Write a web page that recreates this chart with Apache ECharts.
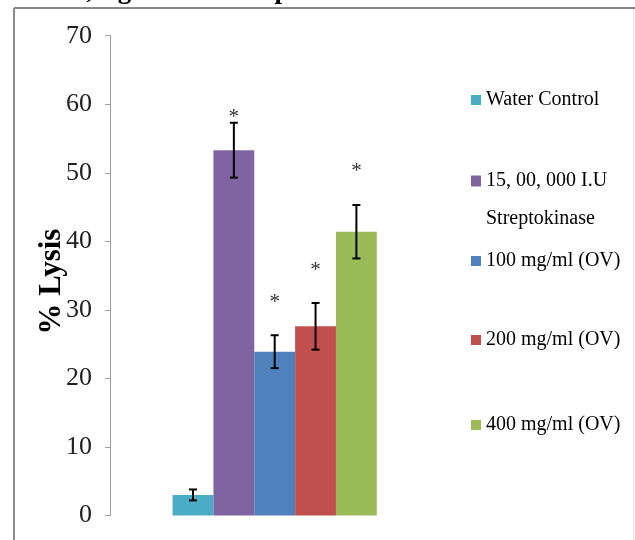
<!DOCTYPE html>
<html><head><meta charset="utf-8">
<script src="https://cdn.jsdelivr.net/npm/echarts@6/dist/echarts.min.js"></script>
<style>html,body{margin:0;padding:0;background:#fff}#c{width:635px;height:540px}</style>
</head><body><div id="c"></div>
<script>
// ---- data ----
const categories = [''];
const seriesNames = ['Water Control', '15, 00, 000 I.U Streptokinase', '100 mg/ml (OV)', '200 mg/ml (OV)', '400 mg/ml (OV)'];
const lysisMean = [3.0, 53.3, 23.9, 27.6, 41.4];
const lysisError = [0.8, 4.0, 2.4, 3.4, 3.9];
const asteriskAt = [null, 58.6, 31.7, 36.3, 50.8];
const yTickValues = [0, 10, 20, 30, 40, 50, 60, 70];
const headerText = '0.0002, significant compared to control';

// ---- style ----
const colors = ['#4BACC6', '#8064A2', '#4F81BD', '#C0504D', '#9BBB59'];
const CAT_GAP = 0.38;
const SERIF = '"Liberation Serif", "DejaVu Serif", serif';
const legendCenters = [95, 176, 256, 335, 420];

const chart = echarts.init(document.getElementById('c'), null, {renderer: 'canvas'});
const n = seriesNames.length;

function barCenter(api, i) {
  const band = api.size([1, 0])[0];
  const bw = band * (1 - CAT_GAP) / n;
  return api.coord([0, 0])[0] + (i - (n - 1) / 2) * bw;
}

const barSeries = seriesNames.map((name, i) => ({
  type: 'bar', name: name, data: [lysisMean[i]],
  barGap: '0%', barCategoryGap: (CAT_GAP * 100) + '%',
  itemStyle: {color: colors[i]}, silent: true
}));

const errSeries = {
  type: 'custom', name: 'err', z: 10, silent: true,
  data: lysisMean.map((m, i) => [0, m - lysisError[i], m + lysisError[i], i]),
  encode: {x: 0, y: [1, 2]},
  renderItem(params, api) {
    const i = api.value(3);
    const cx = barCenter(api, i);
    const lo = api.coord([0, api.value(1)])[1];
    const hi = api.coord([0, api.value(2)])[1];
    const hw = 4;
    const st = {stroke: '#000', lineWidth: 2};
    return {type: 'group', children: [
      {type: 'line', shape: {x1: cx, y1: lo, x2: cx, y2: hi}, style: st},
      {type: 'line', shape: {x1: cx - hw, y1: lo, x2: cx + hw, y2: lo}, style: st},
      {type: 'line', shape: {x1: cx - hw, y1: hi, x2: cx + hw, y2: hi}, style: st}
    ]};
  }
};

const starSeries = {
  type: 'custom', name: 'star', z: 11, silent: true,
  data: asteriskAt.map((v, i) => [0, v, i]).filter(d => d[1] != null),
  encode: {x: 0, y: 1},
  renderItem(params, api) {
    const i = api.value(2);
    const cx = barCenter(api, i);
    const cy = api.coord([0, api.value(1)])[1];
    return {type: 'text', x: cx, y: cy + 4, style: {text: '*', font: '21px ' + SERIF, fill: '#333', align: 'center', verticalAlign: 'middle'}};
  }
};

const legends = seriesNames.map((name, i) => {
  const base = {
    data: [name], orient: 'vertical', left: 466, icon: 'rect',
    itemWidth: 10, itemHeight: 10, selectedMode: false,
    textStyle: {fontFamily: SERIF, fontSize: 20, color: '#000', lineHeight: 26}
  };
  if (i === 1) {
    const parts = name.split(' Streptokinase');
    base.formatter = () => '{e| }\n{a|' + parts[0] + '}\n{a|Streptokinase}';
    base.textStyle.rich = {
      e: {fontFamily: SERIF, fontSize: 20, lineHeight: 38},
      a: {fontFamily: SERIF, fontSize: 20, lineHeight: 38, color: '#000'}
    };
    base.itemHeight = 11;
    base.top = legendCenters[i] - 57;
  } else {
    base.top = legendCenters[i] - 13;
  }
  return base;
});

const option = {
  animation: false,
  backgroundColor: '#fff',
  grid: {left: 110, right: 195.6, top: 35.7, bottom: 24.5},
  xAxis: {type: 'category', data: categories, show: false},
  yAxis: {
    type: 'value', min: yTickValues[0], max: yTickValues[yTickValues.length - 1],
    interval: yTickValues[1] - yTickValues[0],
    axisLine: {show: true, lineStyle: {color: '#a0a0a0', width: 1}},
    axisTick: {show: true, length: 5, lineStyle: {color: '#a0a0a0'}},
    splitLine: {show: false},
    axisLabel: {fontFamily: SERIF, fontSize: 26, color: '#222', margin: 18},
    name: '% Lysis', nameLocation: 'middle', nameGap: 43, nameMoveOverlap: false,
    nameTextStyle: {fontFamily: SERIF, fontWeight: 'bold', fontSize: 31, color: '#000', padding: [0, 12, 0, 0]}
  },
  legend: legends,
  series: [...barSeries, errSeries, starSeries],
  graphic: [
    {type: 'line', shape: {x1: 14, y1: 8, x2: 635, y2: 8}, style: {stroke: '#8a8a8a', lineWidth: 2}},
    {type: 'line', shape: {x1: 14, y1: 8, x2: 14, y2: 540}, style: {stroke: '#8a8a8a', lineWidth: 2}},
    {type: 'line', shape: {x1: 633.5, y1: 9, x2: 633.5, y2: 540}, style: {stroke: '#e2e2e2', lineWidth: 1}},
    {type: 'text', x: 12, y: 5, style: {text: headerText, font: 'bold 27px ' + SERIF, fill: '#000', verticalAlign: 'bottom'}}
  ]
};
chart.setOption(option);
</script></body></html>
